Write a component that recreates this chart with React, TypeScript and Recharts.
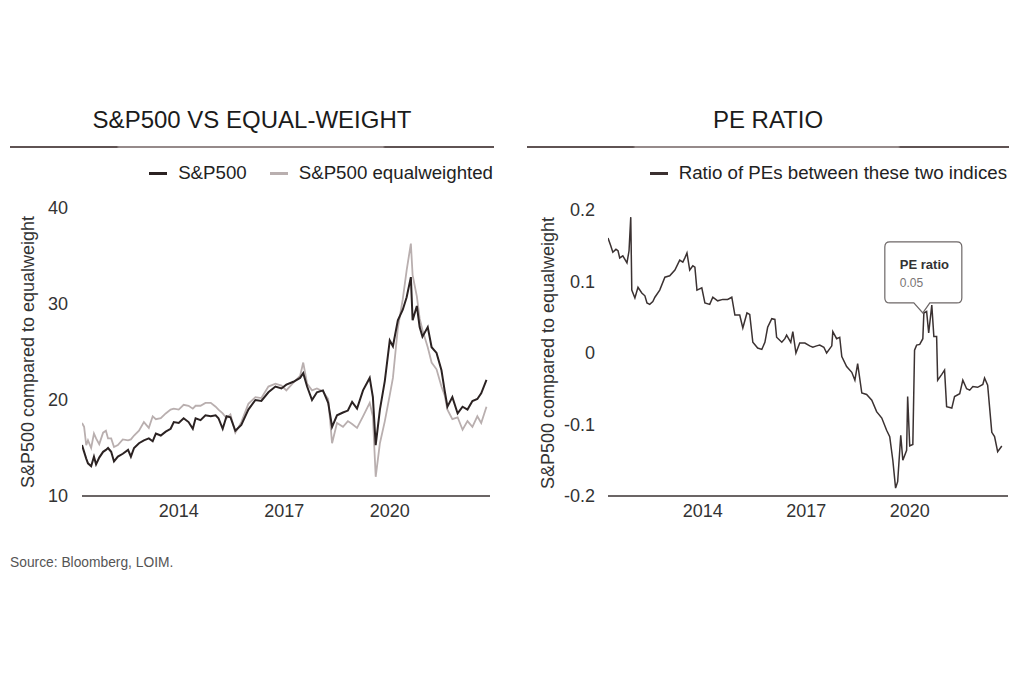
import React from "react";
import { LineChart, Line, XAxis, YAxis, Legend, Label, ReferenceDot } from "recharts";

// ---------- data (decimal years) ----------
const leftDates = [
  2011.25, 2011.31, 2011.37, 2011.42, 2011.51, 2011.59, 2011.65, 2011.74, 2011.85, 2011.93,
  2011.99, 2012.08, 2012.16, 2012.27, 2012.41, 2012.56, 2012.64, 2012.73, 2012.87, 2013.01,
  2013.15, 2013.26, 2013.35, 2013.49, 2013.63, 2013.77, 2013.86, 2014.00, 2014.14, 2014.28,
  2014.40, 2014.48, 2014.62, 2014.76, 2014.91, 2015.05, 2015.13, 2015.25, 2015.36,
  2015.47, 2015.61,
  2015.78, 2015.98, 2016.18, 2016.35, 2016.55, 2016.75, 2016.92, 2017.06, 2017.26, 2017.45,
  2017.54, 2017.65, 2017.79, 2017.93, 2018.10, 2018.25, 2018.36, 2018.50, 2018.67, 2018.81,
  2018.93, 2019.07, 2019.24, 2019.43, 2019.52, 2019.60, 2019.72, 2019.86, 2020.00, 2020.09,
  2020.23, 2020.37, 2020.48, 2020.60, 2020.65, 2020.77, 2020.85, 2020.93, 2021.08, 2021.19,
  2021.33, 2021.47, 2021.56, 2021.64, 2021.78, 2021.93, 2022.07, 2022.21, 2022.35, 2022.49,
  2022.60, 2022.75,
];
const sp500 = [
  15.3, 14.6, 13.9, 13.4, 13.1, 14.1, 13.3, 14.0, 14.6, 14.8,
  15.0, 14.6, 13.6, 14.1, 14.4, 14.8, 14.1, 15.0, 15.5, 15.8,
  16.0, 15.7, 16.5, 16.3, 16.7, 17.0, 17.7, 17.6, 18.1, 17.7,
  17.0, 18.1, 17.9, 18.4, 18.3, 18.4, 18.1, 17.0, 18.3,
  18.2, 16.8,
  17.4, 19.0, 20.0, 19.9, 20.8, 21.4, 21.2, 21.6, 21.9, 22.3,
  22.8, 21.4, 20.0, 20.8, 21.0, 19.7, 17.2, 18.4, 18.7, 18.9,
  19.8, 19.1, 21.0, 22.3, 20.3, 15.3, 19.0, 22.0, 26.2, 25.6,
  28.3, 29.4, 30.7, 32.8, 28.3, 29.8, 27.6, 26.6, 27.6, 25.5,
  24.9, 23.1, 21.0, 19.3, 20.3, 18.6, 19.3, 19.0, 19.9, 20.1,
  20.7, 22.1,
];
const sp500EqualWeighted = [
  17.6, 17.2, 15.3, 15.8, 15.0, 16.5, 16.0, 15.4, 16.6, 16.8,
  16.0, 16.0, 15.1, 15.3, 15.9, 15.8, 15.9, 16.3, 16.8, 17.7,
  17.1, 18.3, 18.0, 18.1, 18.6, 19.0, 19.1, 19.0, 19.5, 19.4,
  19.1, 19.4, 19.4, 19.7, 19.7, 19.3, 19.0, 18.6, 18.1,
  18.5, 16.6,
  17.7, 19.6, 20.3, 20.2, 21.4, 21.7, 21.5, 21.0, 21.8, 22.5,
  23.9, 21.7, 21.0, 21.2, 20.9, 20.1, 15.5, 17.6, 17.2, 17.8,
  17.5, 17.1, 18.3, 19.7, 18.3, 12.0, 15.5, 17.8, 20.5, 22.3,
  27.5, 30.5, 33.5, 36.3, 33.0, 30.8, 28.5, 27.3, 25.5, 23.9,
  23.2, 21.4, 20.5, 19.0, 18.0, 18.2, 16.9, 17.8, 17.2, 18.3,
  17.6, 19.3,
];

const rightDates = [
  2011.25, 2011.33, 2011.39, 2011.48, 2011.54, 2011.59, 2011.68, 2011.80, 2011.86, 2011.91,
  2011.94, 2012.03, 2012.12, 2012.23, 2012.32, 2012.38, 2012.46, 2012.55, 2012.61, 2012.75,
  2012.90, 2013.04, 2013.19, 2013.33, 2013.42, 2013.48, 2013.54, 2013.62, 2013.71, 2013.77,
  2013.83, 2013.97, 2014.06, 2014.20, 2014.29, 2014.43, 2014.58, 2014.72, 2014.84, 2014.93,
  2015.07, 2015.16, 2015.28, 2015.36, 2015.45, 2015.59, 2015.71, 2015.80, 2015.88, 2016.00,
  2016.09, 2016.14, 2016.29, 2016.38, 2016.43, 2016.55, 2016.61, 2016.70, 2016.81, 2016.96,
  2017.10, 2017.19, 2017.30, 2017.39, 2017.51, 2017.59, 2017.74, 2017.77, 2017.88, 2017.97,
  2018.03, 2018.17, 2018.32, 2018.41, 2018.49, 2018.61, 2018.75, 2018.90, 2019.04, 2019.19,
  2019.33, 2019.42, 2019.51, 2019.59, 2019.65, 2019.74, 2019.80, 2019.91, 2019.94, 2020.00,
  2020.09, 2020.14, 2020.20, 2020.29, 2020.38, 2020.41, 2020.49, 2020.55, 2020.64, 2020.70,
  2020.78, 2020.81, 2020.93, 2021.01, 2021.07, 2021.22, 2021.30, 2021.45, 2021.54, 2021.65,
  2021.74, 2021.83, 2021.97, 2022.12, 2022.17, 2022.26, 2022.38, 2022.46, 2022.55, 2022.67,
];
const peRatio = [
  0.161, 0.150, 0.141, 0.145, 0.143, 0.133, 0.136, 0.126, 0.143, 0.190,
  0.088, 0.077, 0.092, 0.084, 0.080, 0.070, 0.068, 0.072, 0.078, 0.088,
  0.106, 0.108, 0.116, 0.130, 0.127, 0.133, 0.140, 0.116, 0.122, 0.120,
  0.088, 0.091, 0.070, 0.068, 0.078, 0.073, 0.075, 0.075, 0.078, 0.053,
  0.053, 0.035, 0.056, 0.054, 0.015, 0.007, 0.005, 0.015, 0.036, 0.048,
  0.047, 0.022, 0.015, 0.020, 0.025, 0.015, 0.030, 0.000, 0.014, 0.014,
  0.010, 0.008, 0.010, 0.011, 0.008, 0.000, 0.010, 0.030, 0.020, 0.022,
  -0.005, -0.019, -0.027, -0.038, -0.015, -0.056, -0.058, -0.066, -0.082, -0.091,
  -0.108, -0.117, -0.150, -0.189, -0.180, -0.115, -0.150, -0.136, -0.061, -0.130,
  -0.128, 0.004, 0.011, 0.012, 0.020, 0.056, 0.058, 0.028, 0.067, 0.023,
  0.023, -0.038, -0.030, -0.024, -0.075, -0.077, -0.061, -0.057, -0.038, -0.050,
  -0.052, -0.047, -0.048, -0.044, -0.035, -0.045, -0.111, -0.117, -0.138, -0.130,
];

const xTicks = [2014, 2017, 2020];
const leftYTicks = [10, 20, 30, 40];
const rightYTicks = [-0.2, -0.1, 0, 0.1, 0.2];
const xDomain: [number, number] = [2011.25, 2022.85];
const calloutPoint = { date: 2020.38, value: 0.056, title: "PE ratio", label: "0.05" };

const leftData = leftDates.map((d, i) => ({ date: d, sp500: sp500[i], ew: sp500EqualWeighted[i] }));
const rightData = rightDates.map((d, i) => ({ date: d, pe: peRatio[i] }));

// ---------- styles ----------
const FONT = '"Liberation Sans", Arial, Helvetica, sans-serif';
const DARK = "#2b2222";
const LIGHT = "#b9afaf";
const TEXT = "#333333";
const AXIS = "#3a3232";
const Y_LABEL = "S&P500 compared to equalweight";

const tickStyle = { fill: TEXT, fontSize: 18, fontFamily: FONT };

function YLabel({ viewBox, offsetX }: any) {
  const x = viewBox.x + offsetX;
  const y = viewBox.y + viewBox.height / 2;
  return (
    <text
      x={x}
      y={y}
      transform={`rotate(-90, ${x}, ${y})`}
      textAnchor="middle"
      dominantBaseline="central"
      fill={TEXT}
      fontSize={18}
      fontFamily={FONT}
    >
      {Y_LABEL}
    </text>
  );
}

function LegendRow({ items }: { items: { label: string; color: string }[] }) {
  return (
    <div style={{ display: "flex", justifyContent: "flex-end", alignItems: "center", fontFamily: FONT }}>
      {items.map((it, i) => (
        <div key={i} style={{ display: "flex", alignItems: "center", marginLeft: i === 0 ? 0 : 23 }}>
          <div style={{ width: 18, height: 3, background: it.color, marginRight: 11 }} />
          <span style={{ fontSize: 18.7, lineHeight: "22px", color: "#222", whiteSpace: "nowrap" }}>{it.label}</span>
        </div>
      ))}
    </div>
  );
}

function Callout(props: any) {
  const { cx, cy } = props;
  if (cx == null || cy == null) return null;
  const l = cx - 38, r = cx + 39, t = cy - 71, b = cy - 10, rad = 5;
  const d = `M ${l + rad} ${t} L ${r - rad} ${t} Q ${r} ${t} ${r} ${t + rad} L ${r} ${b - rad} Q ${r} ${b} ${r - rad} ${b}
    L ${cx + 7} ${b} L ${cx} ${cy} L ${cx - 9} ${b} L ${l + rad} ${b} Q ${l} ${b} ${l} ${b - rad} L ${l} ${t + rad} Q ${l} ${t} ${l + rad} ${t} Z`;
  return (
    <g>
      <path d={d} fill="#ffffff" stroke="#6d6767" strokeWidth={1.2} />
      <text x={cx - 23} y={cy - 44} fontSize={13} fontWeight="bold" fill="#333" fontFamily={FONT}>
        {calloutPoint.title}
      </text>
      <text x={cx - 23} y={cy - 26} fontSize={12} fill="#7a7575" fontFamily={FONT}>
        {calloutPoint.label}
      </text>
    </g>
  );
}

function Title({ text, left, width }: { text: string; left: number; width: number }) {
  return (
    <>
      <div
        style={{
          position: "absolute", left, top: 106, width, textAlign: "center",
          fontFamily: FONT, fontSize: 24, lineHeight: "28px", color: "#1b1b1b",
        }}
      >
        {text}
      </div>
      <div
        style={{
          position: "absolute", left, top: 146, width, height: 2,
          background: "linear-gradient(to right, #5f5353 0%, #5f5353 22%, #958a8a 22.5%, #958a8a 77%, #5f5353 77.5%, #5f5353 100%)",
        }}
      />
    </>
  );
}

export default function App() {
  return (
    <div style={{ position: "absolute", left: 0, top: 0, width: 1024, height: 683, background: "#fff", overflow: "hidden" }}>
      <Title text="S&P500 VS EQUAL-WEIGHT" left={10} width={484} />
      <Title text="PE RATIO" left={527} width={482} />

      {/* Left chart */}
      <div style={{ position: "absolute", left: 0, top: 0 }}>
        <LineChart width={512} height={560} data={leftData} margin={{ top: 208, right: 22, left: 0, bottom: 34 }}>
          <XAxis
            dataKey="date" type="number" domain={xDomain} ticks={xTicks} allowDataOverflow
            tick={tickStyle} tickLine={false} tickMargin={2} height={30}
            axisLine={{ stroke: AXIS, strokeWidth: 1.5 }}
          />
          <YAxis
            type="number" domain={[10, 40]} ticks={leftYTicks} width={82}
            tick={tickStyle} axisLine={false} tickLine={false} tickMargin={8}
          >
            <Label content={(p: any) => <YLabel viewBox={p.viewBox} offsetX={28} />} />
          </YAxis>
          <Legend
            verticalAlign="middle"
            align="center"
            layout="horizontal"
            width={480}
            wrapperStyle={{ top: 162, left: 13, bottom: "auto" }}
            content={() => (
              <LegendRow items={[{ label: "S&P500", color: DARK }, { label: "S&P500 equalweighted", color: LIGHT }]} />
            )}
          />
          <Line type="linear" dataKey="ew" name="S&P500 equalweighted" stroke={LIGHT} strokeWidth={1.8} dot={false} isAnimationActive={false} />
          <Line type="linear" dataKey="sp500" name="S&P500" stroke={DARK} strokeWidth={2} dot={false} isAnimationActive={false} />
        </LineChart>
      </div>

      {/* Right chart */}
      <div style={{ position: "absolute", left: 512, top: 0 }}>
        <LineChart width={512} height={560} data={rightData} margin={{ top: 210, right: 16, left: 0, bottom: 34 }}>
          <XAxis
            dataKey="date" type="number" domain={xDomain} ticks={xTicks} allowDataOverflow
            tick={tickStyle} tickLine={false} tickMargin={2} height={30}
            axisLine={{ stroke: AXIS, strokeWidth: 1.5 }}
          />
          <YAxis
            type="number" domain={[-0.2, 0.2]} ticks={rightYTicks} width={96}
            tick={tickStyle} axisLine={false} tickLine={false} tickMargin={7}
          >
            <Label content={(p: any) => <YLabel viewBox={p.viewBox} offsetX={36} />} />
          </YAxis>
          <Legend
            verticalAlign="middle"
            align="center"
            layout="horizontal"
            width={480}
            wrapperStyle={{ top: 162, left: 15, bottom: "auto" }}
            content={() => <LegendRow items={[{ label: "Ratio of PEs between these two indices", color: "#3b3030" }]} />}
          />
          <Line type="linear" dataKey="pe" name="Ratio of PEs between these two indices" stroke="#3b3232" strokeWidth={1.5} dot={false} isAnimationActive={false} />
          <ReferenceDot x={calloutPoint.date} y={calloutPoint.value} ifOverflow="visible" shape={(p: any) => <Callout {...p} />} />
        </LineChart>
      </div>

      <div style={{ position: "absolute", left: 10, top: 555, fontFamily: FONT, fontSize: 13.8, color: "#555", lineHeight: "16px" }}>
        Source: Bloomberg, LOIM.
      </div>
    </div>
  );
}
